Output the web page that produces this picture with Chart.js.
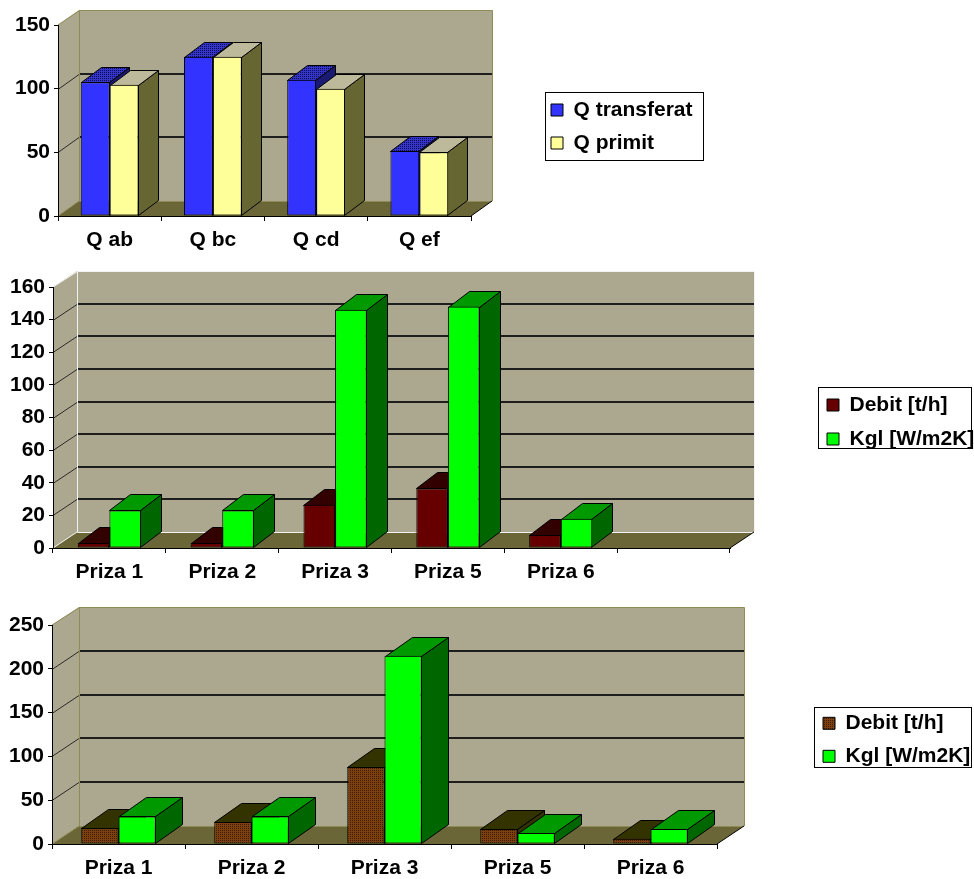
<!DOCTYPE html>
<html>
<head>
<meta charset="utf-8">
<script src="https://cdn.jsdelivr.net/npm/chart.js@4/dist/chart.umd.min.js"></script>
<style>
  html, body { margin: 0; padding: 0; background: #fff; }
  body { width: 974px; height: 879px; position: relative; overflow: hidden; }
  canvas { position: absolute; left: 0; }
</style>
</head>
<body>
<canvas id="c1" width="974" height="262" style="top:0;width:974px;height:262px"></canvas>
<canvas id="c2" width="974" height="330" style="top:262px;width:974px;height:330px"></canvas>
<canvas id="c3" width="974" height="287" style="top:592px;width:974px;height:287px"></canvas>
<script>
// Heat balance per section
const heatLabels = ['Q ab', 'Q bc', 'Q cd', 'Q ef'];
const qTransferat = [105, 125, 107, 51];
const qPrimit = [103, 125, 100, 50];

// Extraction points, first set (last slot left empty)
const prizeLabelsA = ['Priza 1', 'Priza 2', 'Priza 3', 'Priza 5', 'Priza 6', ''];
const debitA = [3, 3, 26.5, 36.5, 8];
const kglA = [23, 23, 146, 148, 18];

// Extraction points, second set
const prizeLabelsB = ['Priza 1', 'Priza 2', 'Priza 3', 'Priza 5', 'Priza 6'];
const debitB = [18, 25, 88, 17, 6];
const kglB = [31.5, 31.5, 215, 12.5, 17];

const FONT = { family: "'Liberation Sans', Arial, Helvetica, sans-serif", size: 21, weight: 'bold' };
const WALL = '#aca88f';
const FLOOR = '#6b6637';
const PAGE_W = 974;

function tilePattern(canvasId, base, dot) {
  const t = document.createElement('canvas');
  t.width = 2; t.height = 2;
  const g = t.getContext('2d');
  g.fillStyle = base; g.fillRect(0, 0, 2, 2);
  g.fillStyle = dot; g.fillRect(0, 0, 1, 1);
  return document.getElementById(canvasId).getContext('2d').createPattern(t, 'repeat');
}

function poly(ctx, pts, fill, stroke) {
  ctx.beginPath();
  ctx.moveTo(pts[0][0], pts[0][1]);
  for (let k = 1; k < pts.length; k++) ctx.lineTo(pts[k][0], pts[k][1]);
  ctx.closePath();
  if (fill) { ctx.fillStyle = fill; ctx.fill(); }
  if (stroke) { ctx.strokeStyle = stroke; ctx.stroke(); }
}

function line(ctx, x0, y0, x1, y1) {
  ctx.beginPath(); ctx.moveTo(x0, y0); ctx.lineTo(x1, y1); ctx.stroke();
}

// Draws the box walls, floor, depth gridlines and the top/side faces of each column
function depthPlugin(cfg) {
  return {
    id: 'depth3d',
    afterLayout(chart) {
      const lg = chart.legend;
      if (!lg) return;
      lg.left = cfg.legendAt[0];
      lg.top = cfg.legendAt[1];
      lg.width = chart.width - lg.left;
      lg.height = 90;
      lg.right = lg.left + lg.width;
      lg.bottom = lg.top + lg.height;
    },
    beforeDraw(chart) {
      const ctx = chart.ctx, a = chart.chartArea, y = chart.scales.y;
      const [dx, dy] = cfg.wall;
      const L = a.left, R = a.right, T = a.top, B = a.bottom;
      ctx.save();
      poly(ctx, [[L, T], [L + dx, T - dy], [L + dx, B - dy], [L, B]], WALL);
      poly(ctx, [[L + dx, T - dy], [R + dx, T - dy], [R + dx, B - dy], [L + dx, B - dy]], WALL);
      poly(ctx, [[L, B], [R, B], [R + dx, B - dy], [L + dx, B - dy]], FLOOR);

      ctx.lineWidth = 2;
      ctx.strokeStyle = '#1e1e1e';
      y.ticks.forEach(t => {
        if (t.value <= y.min || t.value >= y.max) return;
        const p = Math.round(y.getPixelForValue(t.value));
        line(ctx, L + dx, p - dy, R + dx, p - dy);
      });
      ctx.lineWidth = 1;
      ctx.strokeStyle = '#2a2a2a';
      y.ticks.forEach(t => {
        if (t.value <= y.min || t.value >= y.max) return;
        const p = Math.round(y.getPixelForValue(t.value)) + 0.5;
        line(ctx, L, p, L + dx, p - dy);
      });

      ctx.strokeStyle = cfg.edge;
      ctx.beginPath();
      ctx.moveTo(L, T); ctx.lineTo(L + dx + 0.5, T - dy + 0.5);
      ctx.lineTo(R + dx + 0.5, T - dy + 0.5); ctx.lineTo(R + dx + 0.5, B - dy);
      ctx.moveTo(L + dx + 0.5, T - dy + 0.5); ctx.lineTo(L + dx + 0.5, B - dy + 0.5);
      ctx.lineTo(R + dx, B - dy + 0.5);
      ctx.moveTo(L, B); ctx.lineTo(L + dx, B - dy);
      ctx.stroke();
      ctx.strokeStyle = '#000';
      line(ctx, R, B, R + dx, B - dy);
      ctx.restore();
    },
    beforeDatasetsDraw(chart) {
      const ctx = chart.ctx;
      const [bx, by] = cfg.bar;
      const n = chart.data.labels.length;
      ctx.save();
      ctx.lineWidth = 1;
      for (let j = 0; j < n; j++) {
        chart.data.datasets.forEach((ds, i) => {
          const el = chart.getDatasetMeta(i).data[j];
          if (!el || ds.data[j] == null) return;
          const { x, y, base, width } = el.getProps(['x', 'y', 'base', 'width'], true);
          const l = Math.round(x - width / 2) + 0.5, r = Math.round(x + width / 2) - 0.5;
          const top = Math.round(y) + 0.5, bot = Math.round(base) - 0.5;
          poly(ctx, [[r, top], [r + bx, top - by], [r + bx, bot - by], [r, bot]], cfg.side[i], '#000');
          poly(ctx, [[l, top], [r, top], [r + bx, top - by], [l + bx, top - by]], cfg.top[i], '#000');
        });
      }
      ctx.restore();
    },
    afterDraw(chart) {
      const ctx = chart.ctx;
      const [x0, y0, x1, y1] = cfg.frame;
      ctx.save();
      ctx.strokeStyle = '#000';
      ctx.lineWidth = 1;
      ctx.strokeRect(x0 + 0.5, y0 + 0.5, x1 - x0, y1 - y0);
      ctx.restore();
    }
  };
}

function chartOptions(area, canvasH, yMax, yStep, legendPad) {
  return {
    responsive: false,
    animation: false,
    devicePixelRatio: 1,
    layout: { padding: { left: 0, top: area.top, right: PAGE_W - area.right, bottom: 0 } },
    plugins: {
      legend: {
        position: 'chartArea',
        align: 'start',
        labels: { boxWidth: 12, boxHeight: 12, padding: legendPad, color: '#000', font: FONT }
      },
      tooltip: { enabled: false }
    },
    scales: {
      x: {
        grid: { offset: true, drawOnChartArea: false, tickLength: 5, color: '#000' },
        border: { color: '#000' },
        ticks: { color: '#000', font: FONT, padding: 7, maxRotation: 0, autoSkip: false },
        afterFit: s => { s.height = canvasH - area.bottom; }
      },
      y: {
        min: 0, max: yMax,
        grid: { drawOnChartArea: false, tickLength: 4, color: '#000' },
        border: { color: '#000' },
        ticks: { stepSize: yStep, color: '#000', font: FONT, padding: 4 },
        afterFit: s => { s.width = area.left; }
      }
    },
    datasets: {
      bar: { categoryPercentage: 0.56, barPercentage: 1, borderColor: '#000', borderWidth: 1, borderSkipped: false }
    }
  };
}

// Heat chart
new Chart(document.getElementById('c1'), {
  type: 'bar',
  data: {
    labels: heatLabels,
    datasets: [
      { label: 'Q transferat', data: qTransferat, backgroundColor: '#3333ff' },
      { label: 'Q primit', data: qPrimit, backgroundColor: '#ffff99' }
    ]
  },
  options: chartOptions({ left: 58, right: 471, top: 25, bottom: 216 }, 262, 150, 50, 12),
  plugins: [depthPlugin({
    wall: [21, 15], bar: [20, 15], edge: '#8f8b55',
    top: [tilePattern('c1', '#3535c8', '#0c0c55'), '#bdb99b'],
    side: ['#1a1a73', '#666633'],
    legendAt: [539, 87.5], frame: [545, 92, 703, 160]
  })]
});

// Flow rate / coefficient, first set
new Chart(document.getElementById('c2'), {
  type: 'bar',
  data: {
    labels: prizeLabelsA,
    datasets: [
      { label: 'Debit [t/h]', data: debitA, backgroundColor: '#660000' },
      { label: 'Kgl [W/m2K]', data: kglA, backgroundColor: '#00ff00' }
    ]
  },
  options: chartOptions({ left: 53, right: 730, top: 25, bottom: 286 }, 330, 160, 20, 13),
  plugins: [depthPlugin({
    wall: [24, 16], bar: [21, 16], edge: '#f2f2f2',
    top: ['#330000', '#009900'],
    side: ['#330000', '#006600'],
    legendAt: [814, 119.5], frame: [818, 125, 971, 186]
  })]
});

// Flow rate / coefficient, second set
new Chart(document.getElementById('c3'), {
  type: 'bar',
  data: {
    labels: prizeLabelsB,
    datasets: [
      { label: 'Debit [t/h]', data: debitB, backgroundColor: tilePattern('c3', '#7e400e', '#3a1a00') },
      { label: 'Kgl [W/m2K]', data: kglB, backgroundColor: '#00ff00' }
    ]
  },
  options: chartOptions({ left: 52, right: 717, top: 33, bottom: 252 }, 287, 250, 50, 12),
  plugins: [depthPlugin({
    wall: [27, 18], bar: [27, 19], edge: '#8f8b55',
    top: ['#333300', '#009900'],
    side: ['#333300', '#006600'],
    legendAt: [811, 108.8], frame: [814, 115, 971, 175]
  })]
});
</script>
</body>
</html>
